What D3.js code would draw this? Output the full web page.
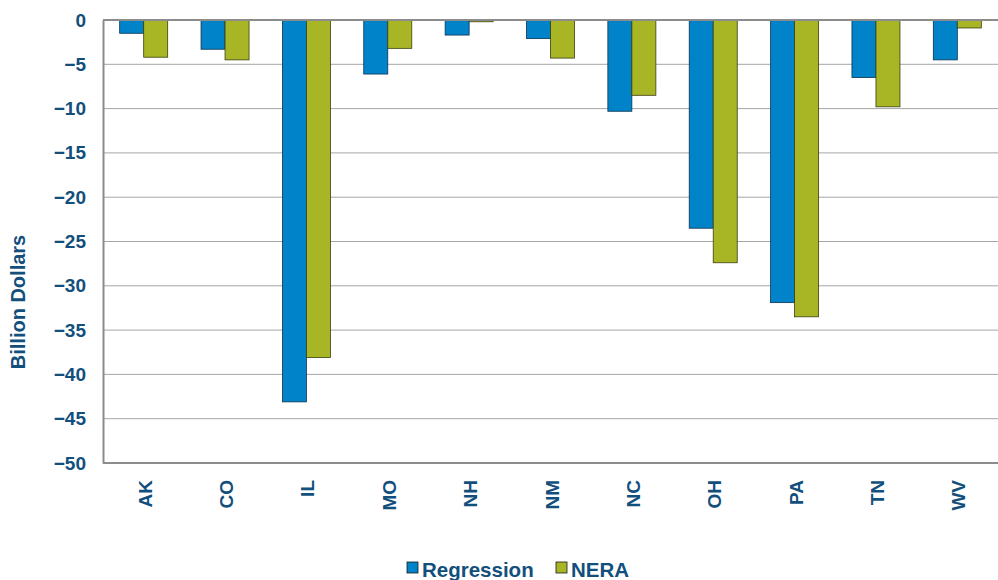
<!DOCTYPE html>
<html>
<head>
<meta charset="utf-8">
<script src="https://cdn.jsdelivr.net/npm/d3@7"></script>
<style>
  body { margin: 0; background: #fff; }
  text { font-family: "Liberation Sans", Arial, sans-serif; font-weight: bold; fill: #134f7c; }
</style>
</head>
<body>
<div id="chart"></div>
<script>
// Données du graphique
const states = ["AK", "CO", "IL", "MO", "NH", "NM", "NC", "OH", "PA", "TN", "WV"];
const regression = [-1.5, -3.3, -43.1, -6.1, -1.7, -2.1, -10.3, -23.5, -31.9, -6.5, -4.5];
const nera = [-4.2, -4.5, -38.1, -3.2, -0.2, -4.3, -8.5, -27.4, -33.5, -9.8, -0.9];
const seriesNames = ["Regression", "NERA"];
const seriesColors = ["#0083c9", "#a8b524"];
const yTicks = [0, -5, -10, -15, -20, -25, -30, -35, -40, -45, -50];

const width = 998, height = 580;
const margin = { left: 103, right: 0, top: 20, bottom: 117 };

const svg = d3.select("#chart").append("svg")
    .attr("width", width)
    .attr("height", height);

const x = d3.scaleBand()
    .domain(states)
    .range([margin.left, width - margin.right])
    .paddingInner(0.41)
    .paddingOuter(0.205);

const xSub = d3.scaleBand()
    .domain(seriesNames)
    .range([0, x.bandwidth()]);

const y = d3.scaleLinear()
    .domain([-50, 0])
    .range([height - margin.bottom, margin.top]);

// Grille horizontale
svg.append("g")
    .selectAll("line")
    .data(yTicks.filter(d => d !== 0 && d !== -50))
    .join("line")
    .attr("x1", margin.left)
    .attr("x2", width)
    .attr("y1", d => y(d))
    .attr("y2", d => y(d))
    .attr("stroke", "#a6a6a6")
    .attr("stroke-width", 1);

// Barres
const series = [regression, nera];
series.forEach((values, i) => {
    svg.append("g")
        .selectAll("rect")
        .data(values)
        .join("rect")
        .attr("x", (d, j) => x(states[j]) + xSub(seriesNames[i]))
        .attr("y", y(0))
        .attr("width", xSub.bandwidth())
        .attr("height", d => y(d) - y(0))
        .attr("fill", seriesColors[i])
        .attr("stroke", i === 0 ? "#0d3350" : "#3a3f10")
        .attr("stroke-width", 0.8);
});

// Axe des ordonnées
const yAxis = svg.append("g")
    .attr("transform", `translate(${margin.left},0)`)
    .call(d3.axisLeft(y).tickValues(yTicks).tickSize(0).tickPadding(17));
yAxis.select(".domain").attr("stroke", "#8c8c8c").attr("stroke-width", 2);
yAxis.selectAll("text")
    .attr("font-size", "19px")
    .attr("font-family", "Liberation Sans, Arial, sans-serif")
    .attr("font-weight", "bold")
    .attr("fill", "#134f7c");

// Ligne du zéro et ligne du bas
svg.append("line")
    .attr("x1", margin.left).attr("x2", width)
    .attr("y1", y(0)).attr("y2", y(0))
    .attr("stroke", "#8c8c8c").attr("stroke-width", 2);
svg.append("line")
    .attr("x1", margin.left).attr("x2", width)
    .attr("y1", y(-50)).attr("y2", y(-50))
    .attr("stroke", "#8c8c8c").attr("stroke-width", 2);

// Étiquettes des états
svg.append("g")
    .selectAll("text")
    .data(states)
    .join("text")
    .attr("transform", d => `translate(${x(d) + x.bandwidth() / 2 + 8},480) rotate(-90)`)
    .attr("text-anchor", "end")
    .attr("font-size", "19px")
    .text(d => d);

// Titre de l'axe Y
svg.append("text")
    .attr("transform", "translate(25,302) rotate(-90)")
    .attr("text-anchor", "middle")
    .attr("font-size", "20px")
    .text("Billion Dollars");

// Légende
const legend = svg.append("g").attr("transform", "translate(407,562)");
const legendX = [0, 149];
seriesNames.forEach((name, i) => {
    const g = legend.append("g").attr("transform", `translate(${legendX[i]},0)`);
    g.append("rect")
        .attr("width", 11).attr("height", 11)
        .attr("fill", seriesColors[i])
        .attr("stroke", "#1a1a1a").attr("stroke-width", 0.8);
    g.append("text")
        .attr("x", 15).attr("y", 15)
        .attr("font-size", "20.5px")
        .text(name);
});
</script>
</body>
</html>
